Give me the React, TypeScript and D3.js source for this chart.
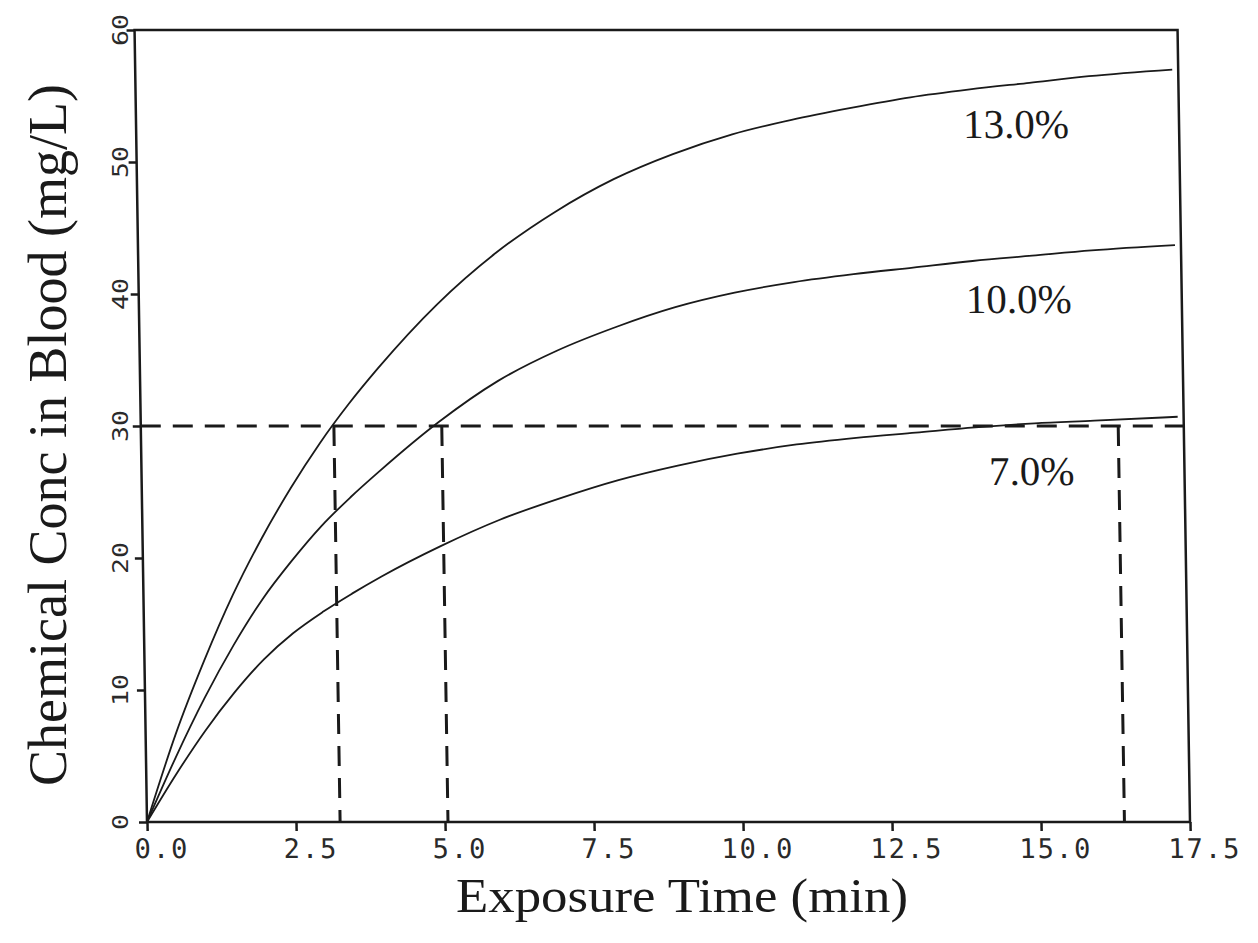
import React, { useEffect, useRef } from 'react';
import * as d3 from 'd3';

// exposure time (min) sampled along the curves
const times = [0, 0.5, 1, 1.5, 2, 2.5, 3, 3.5, 4, 5, 6, 7, 8, 9, 10, 11, 12, 13, 14, 15, 16, 17.4];
// blood concentration (mg/L) for each exposure level
const conc13 = [0, 6.6, 12.2, 17.2, 21.5, 25.3, 28.7, 31.7, 34.4, 39.2, 43.1, 46.2, 48.7, 50.6, 52.1, 53.2, 54.1, 54.9, 55.5, 56.0, 56.5, 57.0];
const conc10 = [0, 4.9, 9.4, 13.4, 16.9, 19.8, 22.4, 24.6, 26.6, 30.3, 33.4, 35.7, 37.5, 39.0, 40.1, 40.9, 41.5, 42.0, 42.5, 42.9, 43.3, 43.7];
const conc7 = [0, 3.6, 6.9, 9.8, 12.3, 14.3, 15.9, 17.3, 18.6, 20.9, 22.9, 24.5, 25.9, 27.0, 27.9, 28.6, 29.1, 29.5, 29.9, 30.2, 30.4, 30.7];
const seriesLabels = ['13.0%', '10.0%', '7.0%'];

const xTicks = [0, 2.5, 5, 7.5, 10, 12.5, 15, 17.5];
const yTicks = [0, 10, 20, 30, 40, 50, 60];

// reference level and the times each curve reaches it
const targetConc = 30;
const crossTimes = [3.24, 5.05, 16.4];

export default function App() {
  const svgRef = useRef<SVGSVGElement>(null);

  useEffect(() => {
    const svg = d3.select(svgRef.current);
    svg.selectAll('*').remove();

    const x = d3.scaleLinear().domain([0, 17.5]).range([147, 1190]);
    const y = d3.scaleLinear().domain([0, 60]).range([822, 30]);
    const ink = '#1a1a1a';

    // the scanned plot leans slightly, shear the plot group to follow it
    const g = svg.append('g')
      .attr('transform', 'translate(0,822) skewX(0.9) translate(0,-822)');

    // frame
    g.append('rect')
      .attr('x', x(0)).attr('y', y(60))
      .attr('width', x(17.5) - x(0)).attr('height', y(0) - y(60))
      .attr('fill', 'none').attr('stroke', ink).attr('stroke-width', 2.5);

    // x axis
    const xAxis = g.append('g')
      .attr('transform', `translate(0,${y(0)})`)
      .call(d3.axisBottom(x).tickValues(xTicks).tickSize(9).tickPadding(8)
        .tickFormat(d3.format('.1f')));
    xAxis.select('.domain').remove();
    xAxis.selectAll('line').attr('stroke', ink).attr('stroke-width', 2.5);
    xAxis.selectAll('text')
      .attr('dx', 14)
      .attr('fill', '#2a2a2a')
      .style('font-family', '"DejaVu Sans Mono", monospace')
      .style('font-size', '27px')
      .style('letter-spacing', '2px');

    // y axis ticks (labels sit upright, outside the shear)
    const yAxis = g.append('g')
      .attr('transform', `translate(${x(0)},0)`)
      .call(d3.axisLeft(y).tickValues(yTicks).tickSize(8).tickFormat(() => ''));
    yAxis.select('.domain').remove();
    yAxis.selectAll('line').attr('stroke', ink).attr('stroke-width', 2.5);

    svg.append('g')
      .selectAll('text')
      .data(yTicks)
      .enter().append('text')
      .attr('transform', d => `translate(128,${y(d)}) rotate(-90)`)
      .attr('text-anchor', 'middle')
      .attr('textLength', d => 16 * String(d).length)
      .attr('lengthAdjust', 'spacingAndGlyphs')
      .attr('fill', '#2a2a2a')
      .style('font-family', '"DejaVu Sans Mono", monospace')
      .style('font-size', '22px')
      .text(d => String(d));

    // dashed reference lines
    const dash = g.append('g')
      .attr('stroke', ink).attr('stroke-width', 3).attr('stroke-dasharray', '20,12');
    dash.append('line')
      .attr('x1', x(0)).attr('x2', x(17.5))
      .attr('y1', y(targetConc)).attr('y2', y(targetConc));
    dash.selectAll('line.v')
      .data(crossTimes)
      .enter().append('line')
      .attr('class', 'v')
      .attr('x1', d => x(d)).attr('x2', d => x(d))
      .attr('y1', y(targetConc)).attr('y2', y(0));

    // curves
    const series = [conc13, conc10, conc7];
    const line = d3.line<number>()
      .x((d, i) => x(times[i]))
      .y(d => y(d))
      .curve(d3.curveMonotoneX);

    g.selectAll('path.curve')
      .data(series)
      .enter().append('path')
      .attr('class', 'curve')
      .attr('d', d => line(d))
      .attr('fill', 'none')
      .attr('stroke', ink)
      .attr('stroke-width', 1.8);

    g.selectAll('text.label')
      .data(series)
      .enter().append('text')
      .attr('class', 'label')
      .attr('x', 1080)
      .attr('y', d => y(d[d.length - 1]) + 68)
      .attr('text-anchor', 'end')
      .attr('fill', ink)
      .style('font-family', '"Liberation Serif", "Times New Roman", serif')
      .style('font-size', '41px')
      .text((d, i) => seriesLabels[i]);

    // axis titles
    svg.append('text')
      .attr('x', 682).attr('y', 912)
      .attr('text-anchor', 'middle')
      .attr('textLength', 452)
      .attr('lengthAdjust', 'spacingAndGlyphs')
      .attr('fill', ink)
      .style('font-family', '"Liberation Serif", "Times New Roman", serif')
      .style('font-size', '49px')
      .text('Exposure Time (min)');

    svg.append('text')
      .attr('transform', 'translate(66,435) rotate(-90)')
      .attr('text-anchor', 'middle')
      .attr('fill', ink)
      .style('font-family', '"Liberation Serif", "Times New Roman", serif')
      .style('font-size', '54px')
      .text('Chemical Conc in Blood (mg/L)');
  }, []);

  return (
    <svg ref={svgRef} width={1258} height={943}
      style={{ position: 'absolute', left: 0, top: 0, background: '#fff' }} />
  );
}
